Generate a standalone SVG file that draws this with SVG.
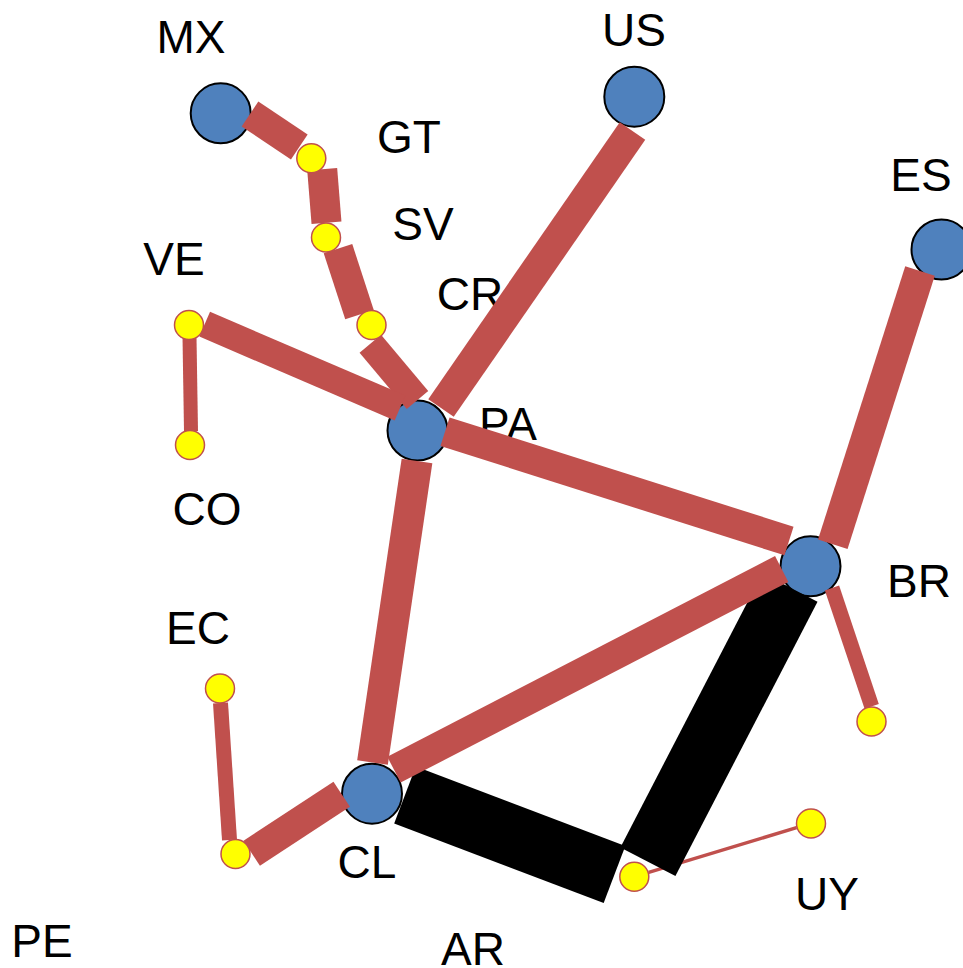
<svg xmlns="http://www.w3.org/2000/svg" width="963" height="968" viewBox="0 0 963 968">
<style>
.lbl{font-family:"Liberation Sans",Arial,sans-serif;font-size:46px;fill:#000;text-anchor:middle}
.big{fill:#4f81bd;stroke:#000;stroke-width:2}
.small{fill:#ffff00;stroke:#c0504d;stroke-width:1.5}
.r{stroke:#c0504d;stroke-linecap:butt;fill:none}
.k{stroke:#000;stroke-linecap:butt;fill:none}
</style>
<rect width="963" height="968" fill="#fff"/>
<g id="labels">
<text class="lbl" x="191" y="53">MX</text>
<text class="lbl" x="634" y="46">US</text>
<text class="lbl" x="409" y="153">GT</text>
<text class="lbl" x="423" y="240">SV</text>
<text class="lbl" x="921" y="191">ES</text>
<text class="lbl" x="174" y="275">VE</text>
<text class="lbl" x="470" y="310">CR</text>
<text class="lbl" x="508" y="440">PA</text>
<text class="lbl" x="207" y="525">CO</text>
<text class="lbl" x="919" y="597">BR</text>
<text class="lbl" x="198" y="644">EC</text>
<text class="lbl" x="367" y="878">CL</text>
<text class="lbl" x="827" y="910">UY</text>
<text class="lbl" x="42" y="957">PE</text>
<text class="lbl" x="473" y="965">AR</text>
</g>
<g id="node-MX"><circle class="big" cx="220.7" cy="113.3" r="30"/></g>
<g id="node-US"><circle class="big" cx="634.3" cy="96.7" r="30"/></g>
<g id="node-ES"><circle class="big" cx="941.5" cy="249.5" r="30"/></g>
<g id="node-PA"><circle class="big" cx="417.5" cy="430.5" r="30"/></g>
<g id="node-BR"><circle class="big" cx="810.5" cy="566.3" r="30"/></g>
<g id="node-CL"><circle class="big" cx="372" cy="793.7" r="30"/></g>
<g id="connectors">
<line class="r" x1="648.7" y1="872.4" x2="796.6" y2="827.6" stroke-width="3.5"/>
<line class="k" x1="405" y1="795" x2="614.5" y2="874.5" stroke-width="61"/>
<line class="k" x1="790" y1="587.5" x2="647.9" y2="861.7" stroke-width="62"/>
<line class="r" x1="250" y1="114" x2="299.3" y2="147" stroke-width="30"/>
<line class="r" x1="322.2" y1="169.3" x2="326.5" y2="222.8" stroke-width="30"/>
<line class="r" x1="338" y1="248.7" x2="359.5" y2="314.7" stroke-width="30"/>
<line class="r" x1="370.3" y1="343.7" x2="417.5" y2="400" stroke-width="28"/>
<line class="r" x1="204.7" y1="324.2" x2="400" y2="408" stroke-width="27"/>
<line class="r" x1="189.5" y1="337" x2="191" y2="431" stroke-width="14"/>
<line class="r" x1="632.5" y1="131" x2="441" y2="408" stroke-width="31"/>
<line class="r" x1="445" y1="431.7" x2="789" y2="541" stroke-width="30"/>
<line class="r" x1="920" y1="271" x2="832.8" y2="544.2" stroke-width="31"/>
<line class="r" x1="417" y1="461" x2="372.5" y2="762.5" stroke-width="31"/>
<line class="r" x1="781.7" y1="569" x2="394" y2="769.7" stroke-width="29"/>
<line class="r" x1="832" y1="588" x2="871.7" y2="706.3" stroke-width="15"/>
<line class="r" x1="220.5" y1="703" x2="229.5" y2="840" stroke-width="15"/>
<line class="r" x1="251.7" y1="853.3" x2="341.7" y2="794.2" stroke-width="30"/>
</g>
<g id="node-GT"><circle class="small" cx="311.3" cy="158.3" r="14.5"/></g>
<g id="node-SV"><circle class="small" cx="326" cy="237.5" r="14.5"/></g>
<g id="node-CR"><circle class="small" cx="371.5" cy="325" r="14.5"/></g>
<g id="node-VE"><circle class="small" cx="189" cy="325" r="14.5"/></g>
<g id="node-CO"><circle class="small" cx="190" cy="445" r="14.5"/></g>
<g id="node-EC"><circle class="small" cx="220" cy="688.5" r="14.5"/></g>
<g id="node-PE"><circle class="small" cx="235.5" cy="854" r="14.5"/></g>
<g id="node-BR2"><circle class="small" cx="871.5" cy="721.5" r="14.5"/></g>
<g id="node-AR"><circle class="small" cx="634.3" cy="876.7" r="14.5"/></g>
<g id="node-UY"><circle class="small" cx="811" cy="823.5" r="14.5"/></g>
</svg>
